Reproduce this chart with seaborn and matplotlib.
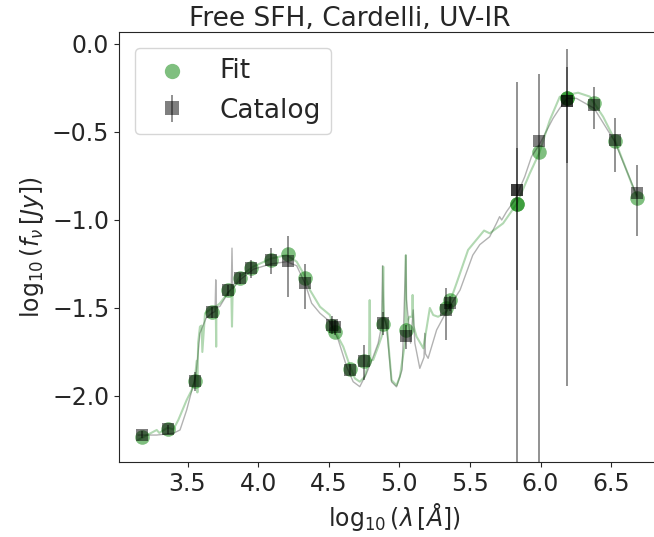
import numpy as np
import pandas as pd
import matplotlib
matplotlib.use('Agg')
import matplotlib.pyplot as plt
import seaborn as sns

# photometric bands (log10 wavelength in Angstrom)
cat_x = [3.18, 3.36, 3.55, 3.67, 3.79, 3.875, 3.95, 4.09, 4.21, 4.33, 4.52, 4.545,
         4.65, 4.75, 4.885, 5.05, 5.33, 5.36, 5.835, 5.835, 5.99, 6.19, 6.19, 6.38,
         6.525, 6.68]
# catalog log10 flux [Jy] and 1-sigma errors in Jy
cat_y = [-2.22, -2.19, -1.915, -1.525, -1.40, -1.33, -1.275, -1.228, -1.231, -1.36,
         -1.595, -1.61, -1.85, -1.80, -1.583, -1.66, -1.51, -1.47, -0.83, -0.83,
         -0.55, -0.322, -0.322, -0.347, -0.548, -0.845]
cat_err = [0.00028, 0.00038, 0.0015, 0.0021, 0.0028, 0.0033, 0.0065, 0.010, 0.0224,
           0.0123, 0.003, 0.0024, 0.001, 0.0036, 0.0039, 0.0034, 0.0101, 0.0033,
           0.108, 0.46, 0.39, 0.465, 0.267, 0.122, 0.096, 0.062]

# fitted photometry
fit_x = [3.18, 3.36, 3.55, 3.67, 3.79, 3.875, 3.95, 4.09, 4.21, 4.33, 4.52, 4.545,
         4.65, 4.75, 4.885, 5.05, 5.33, 5.36, 5.835, 5.835, 5.99, 6.19, 6.19, 6.38,
         6.525, 6.68]
fit_y = [-2.235, -2.185, -1.915, -1.525, -1.40, -1.33, -1.275, -1.227, -1.195, -1.328,
         -1.605, -1.635, -1.845, -1.80, -1.59, -1.625, -1.50, -1.455, -0.909, -0.909,
         -0.614, -0.305, -0.305, -0.333, -0.55, -0.873]

# model spectra
true_wl = [3.15, 3.28, 3.40, 3.447, 3.494, 3.53, 3.56, 3.588, 3.63, 3.671, 3.695, 3.70,
           3.705, 3.73, 3.79, 3.81, 3.815, 3.82, 3.872, 3.966, 4.089, 4.202, 4.273,
           4.332, 4.379, 4.438, 4.508, 4.567, 4.627, 4.673, 4.72, 4.768, 4.815, 4.85,
           4.875, 4.881, 4.89, 4.91, 4.945, 4.98, 5.02, 5.046, 5.05, 5.08, 5.098,
           5.11, 5.145, 5.175, 5.18, 5.185, 5.204, 5.264, 5.334, 5.43, 5.52, 5.57,
           5.64, 5.688, 5.71, 5.725, 5.759, 5.818, 5.888, 5.936, 5.99, 6.089, 6.136,
           6.188, 6.254, 6.379, 6.526, 6.68]
true_f = [-2.222, -2.222, -2.212, -2.193, -2.08, -1.97, -1.88, -1.644, -1.56, -1.53,
          -1.52, -1.34, -1.50, -1.49, -1.41, -1.39, -1.16, -1.39, -1.34, -1.28, -1.25,
          -1.237, -1.26, -1.36, -1.473, -1.53, -1.578, -1.68, -1.833, -1.919, -1.947,
          -1.871, -1.776, -1.70, -1.60, -1.26, -1.55, -1.605, -1.92, -1.948, -1.85,
          -1.20, -1.45, -1.70, -1.511, -1.70, -1.843, -1.78, -1.644, -1.76, -1.786,
          -1.625, -1.52, -1.398, -1.20, -1.14, -1.095, -1.019, -0.981, -1.0, -0.953,
          -0.886, -0.754, -0.64, -0.574, -0.422, -0.365, -0.309, -0.309, -0.365,
          -0.555, -0.858]
mod_wl = [3.15, 3.184, 3.282, 3.30, 3.36, 3.40, 3.435, 3.494, 3.53, 3.55, 3.565,
          3.57, 3.575, 3.588, 3.60, 3.605, 3.624, 3.671, 3.70, 3.703, 3.705, 3.73,
          3.79, 3.81, 3.815, 3.82, 3.872, 3.966, 4.089, 4.202, 4.273, 4.332, 4.367,
          4.438, 4.508, 4.54, 4.603, 4.65, 4.685, 4.72, 4.756, 4.785, 4.79, 4.795,
          4.815, 4.85, 4.88, 4.886, 4.89, 4.91, 4.945, 4.98, 5.004, 5.04, 5.046,
          5.05, 5.07, 5.09, 5.094, 5.1, 5.122, 5.17, 5.216, 5.24, 5.275, 5.334, 5.405,
          5.487, 5.60, 5.64, 5.735, 5.834, 5.924, 5.99, 6.066, 6.136, 6.184, 6.266,
          6.349, 6.443, 6.526, 6.68]
mod_f = [-2.25, -2.235, -2.193, -2.21, -2.18, -2.19, -2.136, -2.023, -1.966, -1.92,
         -1.80, -1.98, -1.70, -1.606, -1.60, -1.75, -1.53, -1.502, -1.49, -1.72,
         -1.49, -1.473, -1.41, -1.40, -1.606, -1.39, -1.32, -1.265, -1.22, -1.199,
         -1.237, -1.32, -1.398, -1.493, -1.54, -1.625, -1.72, -1.83, -1.90, -1.919,
         -1.89, -1.80, -1.455, -1.80, -1.795, -1.72, -1.65, -1.265, -1.55, -1.587,
         -1.91, -1.94, -1.89, -1.70, -1.20, -1.60, -1.55, -1.55, -1.426, -1.60,
         -1.663, -1.729, -1.50, -1.54, -1.55, -1.52, -1.36, -1.17, -1.06, -1.076,
         -1.019, -0.905, -0.735, -0.621, -0.432, -0.30, -0.29, -0.277, -0.299, -0.413,
         -0.545, -0.866]

sns.set_style('ticks')
plt.rcParams['font.family'] = ['DejaVu Sans']
plt.rcParams['mathtext.fontset'] = 'dejavusans'

fig = plt.figure(figsize=(6.54, 5.37), dpi=100)
ax = fig.add_axes([0.182, 0.1397, 0.841, 0.8007])

true_df = pd.DataFrame({'wl': true_wl, 'f': true_f})
mod_df = pd.DataFrame({'wl': mod_wl, 'f': mod_f})
sns.lineplot(data=true_df, x='wl', y='f', sort=False, estimator=None, color='black',
             alpha=0.3, lw=1.0, ax=ax)
sns.lineplot(data=mod_df, x='wl', y='f', sort=False, estimator=None, color='green',
             alpha=0.3, lw=1.5, ax=ax)

fit_df = pd.DataFrame({'wl': fit_x, 'f': fit_y})
sns.scatterplot(data=fit_df, x='wl', y='f', color='green', alpha=0.5, s=110,
                marker='o', linewidth=0, ax=ax, label='Fit')

# asymmetric errorbars in log space from linear flux errors
cy = np.array(cat_y)
lin = 10 ** cy
err = np.array(cat_err)
lo = lin - err
low_log = np.where(lo > 0, np.log10(np.clip(lo, 1e-12, None)), -10)
yerr = [cy - low_log, np.log10(lin + err) - cy]
ax.errorbar(cat_x, cat_y, yerr=yerr, fmt='s', color='black', alpha=0.5,
            markersize=9, markeredgewidth=0, elinewidth=1.2, label='Catalog')

ax.set_xlim(3.015, 6.91)
ax.set_ylim(-2.375, 0.068)
ax.set_xticks([3.5, 4.0, 4.5, 5.0, 5.5, 6.0, 6.5])
ax.set_yticks([0.0, -0.5, -1.0, -1.5, -2.0])
ax.tick_params(labelsize=17, length=3.5, width=0.8)
ax.set_xlabel(r'$\log_{10}(\lambda\,[Å])$', fontsize=17)
ax.set_ylabel(r'$\log_{10}(f_\nu\,[Jy])$', fontsize=17)
ax.set_title('Free SFH, Cardelli, UV-IR', fontsize=19, pad=4, x=0.42)
ax.legend(loc='upper left', fontsize=19, frameon=True, borderaxespad=0.6,
          markerscale=1.05)

fig.savefig('out.png', dpi=100)
